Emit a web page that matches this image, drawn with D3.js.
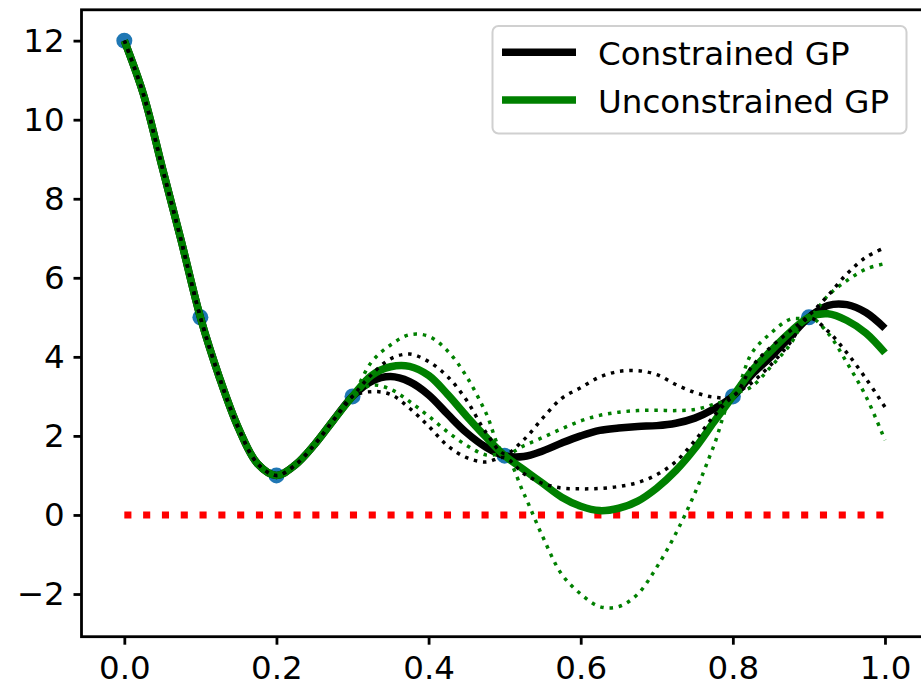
<!DOCTYPE html>
<html>
<head>
<meta charset="utf-8">
<script src="https://cdn.jsdelivr.net/npm/d3@7"></script>
<style>
  html, body { margin: 0; padding: 0; background: #fff; }
  svg { display: block; font-family: "DejaVu Sans", sans-serif; }
</style>
</head>
<body>
<svg id="chart" width="921" height="681"></svg>
<script>
// Shared input grid for the GP predictions
const xs = [0, 0.025, 0.05, 0.075, 0.1, 0.125, 0.15, 0.175, 0.2, 0.225, 0.25, 0.275, 0.3,
  0.325, 0.35, 0.375, 0.4, 0.425, 0.45, 0.475, 0.5, 0.525, 0.55, 0.575, 0.6, 0.625, 0.65,
  0.675, 0.7, 0.725, 0.75, 0.775, 0.8, 0.825, 0.85, 0.875, 0.9, 0.925, 0.95, 0.975, 1.0];

// Section up to x = 0.3 where both models agree
const head = [12.0, 10.65, 8.78, 6.92, 5.0, 3.48, 2.2, 1.3, 1.0, 1.27, 1.78, 2.4, 3.0];

// Constrained GP: mean and bounds
const conMean  = head.concat([3.38, 3.5, 3.37, 3.04, 2.55, 2.08, 1.72, 1.5, 1.48, 1.62, 1.82, 2.0, 2.14, 2.2,
  2.24, 2.26, 2.32, 2.45, 2.68, 3.0, 3.55, 4.0, 4.5, 5.0, 5.3, 5.32, 5.12, 4.72]);
const conUpper = head.concat([3.55, 3.95, 4.07, 3.88, 3.5, 2.9, 2.1, 1.55, 1.9, 2.45, 2.95, 3.22, 3.49, 3.63,
  3.65, 3.55, 3.3, 3.1, 2.98, 3.0, 3.75, 4.25, 4.65, 5.05, 5.55, 6.1, 6.52, 6.76]);
const conLower = head.concat([3.12, 3.05, 2.7, 2.25, 1.75, 1.45, 1.34, 1.45, 1.05, 0.8, 0.68, 0.66, 0.67, 0.72,
  0.82, 1.02, 1.35, 1.88, 2.5, 3.0, 3.35, 3.8, 4.35, 4.98, 4.65, 4.1, 3.45, 2.73]);

// Unconstrained GP: mean and bounds
const uncMean  = head.concat([3.53, 3.75, 3.76, 3.53, 3.05, 2.5, 1.98, 1.5, 1.15, 0.8, 0.45, 0.22, 0.11, 0.17,
  0.35, 0.68, 1.12, 1.68, 2.35, 3.0, 3.65, 4.15, 4.62, 5.0, 5.09, 4.92, 4.6, 4.1]);
const uncUpper = head.concat([3.87, 4.3, 4.56, 4.52, 4.15, 3.5, 2.6, 1.55, 1.75, 1.96, 2.18, 2.38, 2.52, 2.6,
  2.64, 2.65, 2.64, 2.67, 2.8, 3.0, 4.1, 4.6, 4.95, 5.0, 5.55, 5.93, 6.22, 6.36]);
const uncLower = head.concat([3.28, 3.18, 2.87, 2.5, 2.1, 1.76, 1.52, 1.5, 0.55, -0.55, -1.5, -2.0, -2.32, -2.32,
  -2.0, -1.32, -0.47, 0.55, 1.75, 3.0, 3.25, 3.75, 4.3, 5.0, 4.6, 3.85, 3.0, 1.89]);

// Training observations
const obsX = [0, 0.1, 0.2, 0.3, 0.5, 0.8, 0.9];
const obsY = [12, 5, 1, 3, 1.5, 3, 5];

// Constraint level (f >= 0)
const boundX = [0, 1];
const boundY = [0, 0];

const xTicks = [0, 0.2, 0.4, 0.6, 0.8, 1.0];
const yTicks = [-2, 0, 2, 4, 6, 8, 10, 12];
const legendLabels = ["Constrained GP", "Unconstrained GP"];
const legendColors = ["#000000", "#008000"];

const svg = d3.select("#chart");
const m = { left: 81.5, right: 927.8, top: 9.8, bottom: 636.7 };
const fontSize = 32.5;

const x = d3.scaleLinear().domain([-0.0563, 1.0563]).range([m.left, m.right]);
const y = d3.scaleLinear().domain([-3.08, 12.78]).range([m.bottom, m.top]);

const line = d3.line()
  .x(d => x(d[0]))
  .y(d => y(d[1]))
  .curve(d3.curveCatmullRom.alpha(0.5));

const pairs = (xv, yv) => xv.map((v, i) => [v, yv[i]]);

const plot = svg.append("g");

// observations first so the curves run over them
plot.selectAll("circle.obs")
  .data(pairs(obsX, obsY))
  .join("circle")
  .attr("class", "obs")
  .attr("cx", d => x(d[0]))
  .attr("cy", d => y(d[1]))
  .attr("r", 8)
  .attr("fill", "#1f77b4");

// constraint line
plot.append("path")
  .datum(pairs(boundX, boundY))
  .attr("d", d3.line().x(d => x(d[0])).y(d => y(d[1])))
  .attr("fill", "none")
  .attr("stroke", "#ff0000")
  .attr("stroke-width", 7.1)
  .attr("stroke-dasharray", "7.1 11.7");

const solid = (vals, color) => plot.append("path")
  .datum(pairs(xs, vals))
  .attr("d", line)
  .attr("fill", "none")
  .attr("stroke", color)
  .attr("stroke-width", 7.5)
  .attr("stroke-linejoin", "round");

const dotted = (vals, color) => plot.append("path")
  .datum(pairs(xs, vals))
  .attr("d", line)
  .attr("fill", "none")
  .attr("stroke", color)
  .attr("stroke-width", 3.5)
  .attr("stroke-dasharray", "3.5 5.8");

solid(conMean, "#000000");
solid(uncMean, "#008000");
dotted(uncUpper, "#008000");
dotted(uncLower, "#008000");
dotted(conUpper, "#000000");
dotted(conLower, "#000000");

// axes
const fmtX = d3.format(".1f");
const fmtY = v => (v < 0 ? "\u2212" + Math.abs(v) : String(v));

const xAxis = svg.append("g")
  .attr("transform", `translate(0,${m.bottom})`)
  .call(d3.axisBottom(x).tickValues(xTicks).tickFormat(fmtX).tickSize(8).tickPadding(11).tickSizeOuter(0));
const yAxis = svg.append("g")
  .attr("transform", `translate(${m.left},0)`)
  .call(d3.axisLeft(y).tickValues(yTicks).tickFormat(fmtY).tickSize(8).tickPadding(8.8).tickSizeOuter(0));

[xAxis, yAxis].forEach(g => {
  g.select(".domain").remove();
  g.selectAll(".tick line").attr("stroke", "#000").attr("stroke-width", 2.8);
  g.selectAll(".tick text").attr("fill", "#000").attr("font-size", fontSize)
    .attr("font-family", "DejaVu Sans, sans-serif");
});
xAxis.selectAll(".tick text").attr("dy", "0.71em");

// frame
svg.append("rect")
  .attr("x", m.left).attr("y", m.top)
  .attr("width", m.right - m.left).attr("height", m.bottom - m.top)
  .attr("fill", "none").attr("stroke", "#000").attr("stroke-width", 2.8);

// legend
const lg = svg.append("g");
lg.append("rect")
  .attr("x", 492.5).attr("y", 26).attr("width", 414).attr("height", 107.5)
  .attr("rx", 6).attr("ry", 6)
  .attr("fill", "#fff").attr("fill-opacity", 0.8)
  .attr("stroke", "#d0d0d0").attr("stroke-width", 2);

legendLabels.forEach((lab, i) => {
  const cy = 52.3 + i * 47.8;
  lg.append("line")
    .attr("x1", 502).attr("x2", 576)
    .attr("y1", cy).attr("y2", cy)
    .attr("stroke", legendColors[i]).attr("stroke-width", 7.5);
  lg.append("text")
    .attr("x", 598).attr("y", cy + 12.5)
    .attr("font-size", fontSize)
    .attr("fill", "#000")
    .text(lab);
});
</script>
</body>
</html>
